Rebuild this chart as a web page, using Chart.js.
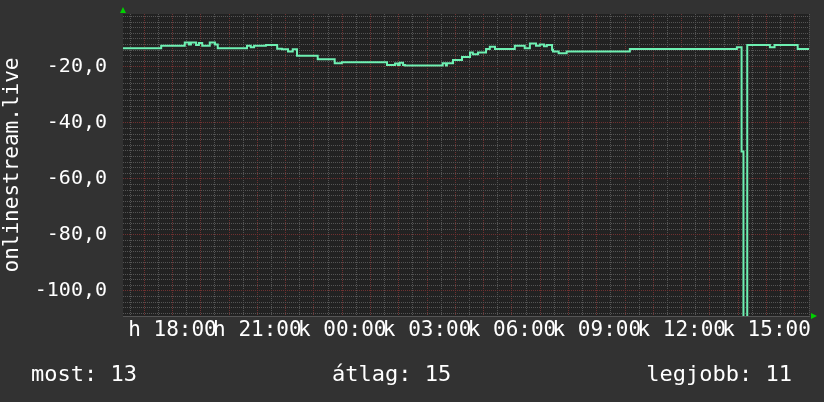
<!DOCTYPE html>
<html>
<head>
<meta charset="utf-8">
<script src="https://cdn.jsdelivr.net/npm/chart.js@4/dist/chart.umd.min.js"></script>
<style>
  html, body { margin: 0; padding: 0; background: #323232; }
  #wrap { width: 824px; height: 402px; }
</style>
</head>
<body>
<div id="wrap"><canvas id="c" width="824" height="402"></canvas></div>
<script>
// ---- data ----
const axisTitle = 'onlinestream.live';
// sample start times ("day HH:MM", h = first day, k = second day)
const times = [
  'h 16:15','h 17:36','h 18:26','h 18:35','h 18:39','h 18:50','h 18:56','h 19:03','h 19:19','h 19:30',
  'h 19:36','h 20:38','h 20:46','h 20:53','h 21:18','h 21:42','h 21:52','h 22:05','h 22:15','h 22:24',
  'h 23:08','h 23:44','h 23:59','k 01:35','k 01:52','k 01:58','k 02:02','k 02:09','k 02:13','k 03:33',
  'k 03:40','k 03:42','k 03:55','k 04:14','k 04:31','k 04:37','k 04:48','k 05:05','k 05:13','k 05:24',
  'k 06:06','k 06:27','k 06:38','k 06:51','k 06:59','k 07:08','k 07:14','k 07:25','k 07:27','k 07:39',
  'k 07:56','k 10:10','k 13:57','k 14:07','k 14:11','k 14:19','k 15:07','k 15:17','k 16:06','k 16:30'
];
const values = [
  -13.3,-12.4,-11.3,-12.0,-11.3,-12.2,-11.5,-12.4,-11.3,-12.0,
  -13.3,-12.4,-13.0,-12.4,-12.2,-13.5,-13.7,-14.5,-13.7,-16.0,
  -17.3,-18.7,-18.3,-19.3,-18.8,-19.3,-18.5,-19.3,-19.5,-18.7,
  -19.5,-18.7,-17.5,-16.5,-14.9,-15.5,-14.9,-13.6,-12.8,-13.6,
  -12.4,-13.3,-11.6,-12.4,-12.0,-12.6,-12.2,-13.9,-14.5,-15.1,
  -14.5,-13.6,-13.0,-50.2,-125,-12.2,-13.0,-12.2,-13.6,-13.6
];
const xTickHours  = [18, 21, 24, 27, 30, 33, 36, 39];
const xTickLabels = ['h 18:00','h 21:00','k 00:00','k 03:00','k 06:00','k 09:00','k 12:00','k 15:00'];
const yTickValues = [-100, -80, -60, -40, -20];
const xRange = ['h 16:15', 'k 16:30'];
const yRange = [-109, -1.1];
const legendNames  = ['most', 'átlag', 'legjobb'];
const legendValues = [13, 15, 11];

// ---- helpers ----
function toHours(s) {
  const [d, hm] = s.split(' ');
  const [h, m] = hm.split(':').map(Number);
  return (d === 'k' ? 24 : 0) + h + m / 60;
}
const points = times.map((t, i) => ({ x: toHours(t), y: values[i] }));

const FONT = "'DejaVu Sans Mono', monospace";
const RED = 'rgb(112,48,48)';
const GRAY = 'rgb(84,84,84)';

const decor = {
  id: 'decor',
  beforeDraw(chart) {
    const { ctx, chartArea: a } = chart;
    ctx.save();
    ctx.fillStyle = '#323232';
    ctx.fillRect(0, 0, chart.width, chart.height);
    ctx.fillStyle = '#222222';
    ctx.fillRect(a.left, a.top, a.right - a.left, a.bottom - a.top);
    ctx.restore();
  },
  afterDraw(chart) {
    const { ctx, chartArea: a } = chart;
    ctx.save();
    // axis arrows
    ctx.fillStyle = '#00d000';
    ctx.beginPath();
    ctx.moveTo(a.left - 3, a.top - 1);
    ctx.lineTo(a.left + 3, a.top - 1);
    ctx.lineTo(a.left, a.top - 7);
    ctx.closePath();
    ctx.fill();
    ctx.beginPath();
    ctx.moveTo(a.right + 2, a.bottom - 3);
    ctx.lineTo(a.right + 2, a.bottom + 3);
    ctx.lineTo(a.right + 8, a.bottom);
    ctx.closePath();
    ctx.fill();
    // legend
    ctx.fillStyle = '#ffffff';
    ctx.font = '22px ' + FONT;
    ctx.textBaseline = 'alphabetic';
    const texts = legendNames.map((n, i) => n + ': ' + legendValues[i]);
    ctx.textAlign = 'left';
    ctx.fillText(texts[0], 31, 381);
    ctx.fillText(texts[1], 332, 381);
    ctx.textAlign = 'right';
    ctx.fillText(texts[2], 792, 381);
    ctx.restore();
  }
};

new Chart(document.getElementById('c'), {
  type: 'line',
  data: {
    datasets: [{
      data: points,
      borderColor: '#6ef0b2',
      borderWidth: 2,
      pointRadius: 0,
      stepped: true,
      tension: 0,
      fill: false
    }]
  },
  options: {
    responsive: false,
    animation: false,
    devicePixelRatio: 1,
    layout: { padding: { left: 0, right: 15, top: 14, bottom: 46 } },
    plugins: { legend: { display: false }, tooltip: { enabled: false } },
    scales: {
      x: {
        type: 'linear',
        min: toHours(xRange[0]),
        max: toHours(xRange[1]),
        afterBuildTicks(scale) {
          const t = [];
          for (let v = 16.5; v <= toHours(xRange[1]) + 1e-6; v += 0.5) t.push({ value: v });
          scale.ticks = t;
        },
        afterFit(scale) {
          scale.height = 40;
          scale.paddingLeft = 0; scale.paddingRight = 0;
        },
        grid: {
          drawTicks: false,
          lineWidth: 1,
          color: ctx => (ctx.tick && Math.abs(ctx.tick.value % 1) < 1e-6) ? RED : GRAY
        },
        border: { display: true, color: '#555555', width: 1, dash: [1, 1] },
        ticks: {
          autoSkip: false,
          maxRotation: 0,
          minRotation: 0,
          padding: 2,
          color: '#ffffff',
          font: { family: FONT, size: 21 },
          callback: (v) => {
            const i = xTickHours.findIndex(h => Math.abs(h - v) < 1e-6);
            return i >= 0 ? xTickLabels[i] : '';
          }
        }
      },
      y: {
        type: 'linear',
        min: yRange[0],
        max: yRange[1],
        afterBuildTicks(scale) {
          const t = [];
          for (let v = -108; v <= -2; v += 2) t.push({ value: v });
          scale.ticks = t;
        },
        afterFit(scale) {
          scale.width = 123;
          scale.paddingTop = 0; scale.paddingBottom = 0;
        },
        grid: {
          drawTicks: false,
          lineWidth: 1,
          color: ctx => (ctx.tick && ctx.tick.value % 20 === 0) ? RED : GRAY
        },
        border: { display: false, dash: [1, 1] },
        title: {
          display: true,
          text: axisTitle,
          color: '#ffffff',
          font: { family: FONT, size: 21 },
          padding: { top: 0, bottom: 0 }
        },
        ticks: {
          autoSkip: false,
          padding: 16,
          color: '#ffffff',
          font: { family: FONT, size: 20 },
          callback: (v) => yTickValues.includes(v) ? v.toFixed(1).replace('.', ',') : ''
        }
      }
    }
  },
  plugins: [decor]
});
</script>
</body>
</html>
